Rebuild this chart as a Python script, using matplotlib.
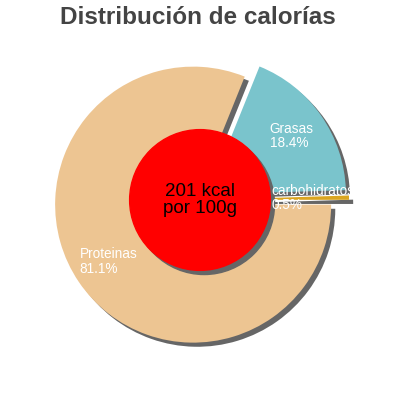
import matplotlib
matplotlib.use("Agg")
import matplotlib.pyplot as plt
from matplotlib.patches import Circle

# data, in pie order (counter-clockwise from 3 o'clock)
names = ["carbohidratos", "Grasas", "Proteinas"]
values = [0.5, 18.4, 81.1]
colors = ["#DAA520", "#7AC4CC", "#EDC592"]
explode = [0.08, 0.07, 0.06]
center_text = "201 kcal\npor 100g"
title = "Distribución de calorías"

SHADOW = "#666666"
OFF = 0.03
LIM = 200 / 138

plt.rcParams["font.family"] = ["Liberation Sans", "DejaVu Sans"]

fig = plt.figure(figsize=(4, 4), dpi=100)
ax = fig.add_axes([0, 0, 1, 1])

# shadow pass
ax.pie(values, explode=explode, colors=[SHADOW] * len(values), startangle=0,
       center=(OFF, -OFF), wedgeprops={"linewidth": 0})
ax.add_patch(Circle((OFF, -OFF), 0.51, color=SHADOW, zorder=3))

labels = [f"{n}\n{v:.1f}%" for n, v in zip(names, values)]
wedges, texts = ax.pie(values, explode=explode, colors=colors, startangle=0,
                       labels=labels, labeldistance=0.74,
                       wedgeprops={"linewidth": 0},
                       textprops={"color": "white", "fontsize": 9.8})
for t in texts:
    t.set_ha("center")
    t.set_va("center")
    t.set_multialignment("left")
    t.set_linespacing(1.05)
    t.set_zorder(6)

ax.add_patch(Circle((0, 0), 0.51, color="#FF0000", zorder=4))
ax.text(0, 0, center_text, ha="center", va="center", fontsize=13.5, color="black",
        linespacing=1.0, zorder=5)

ax.set_xlim(-LIM, LIM)
ax.set_ylim(-LIM, LIM)
ax.set_aspect("equal")
ax.axis("off")

fig.text(0.495, 0.955, title, ha="center", va="center", fontsize=17.5,
         fontweight="bold", color="#444444")

fig.savefig("out.png", dpi=100)
